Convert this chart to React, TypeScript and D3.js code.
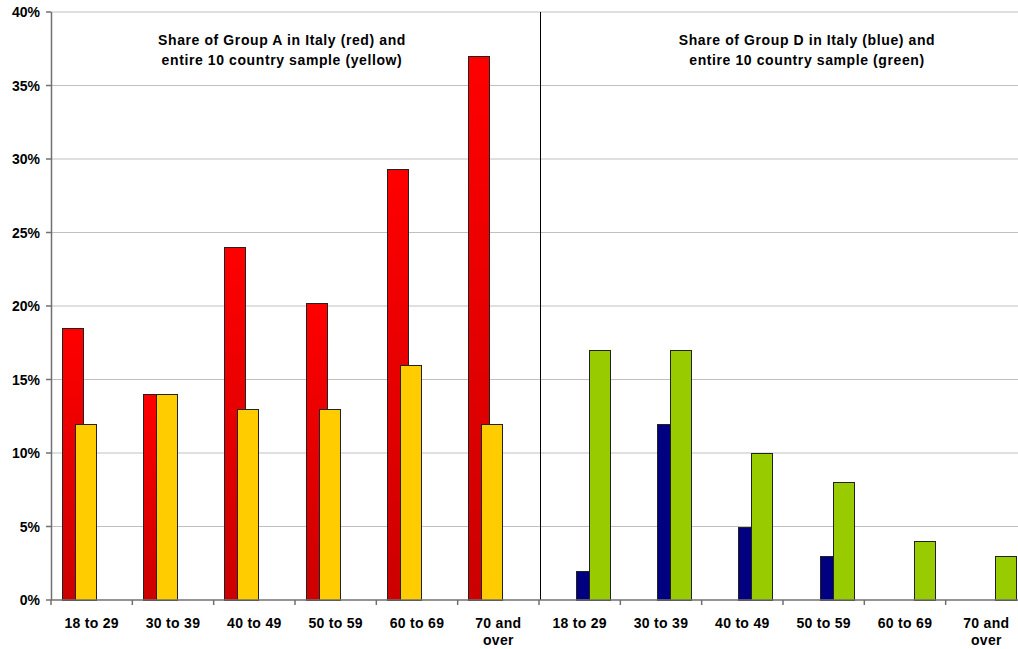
import * as d3 from 'd3'
import React from 'react'

// age bands, repeated for the two halves of the chart
const ageGroups = ['18 to 29', '30 to 39', '40 to 49', '50 to 59', '60 to 69', '70 and over']
// Group A: Italy (red) and whole 10 country sample (yellow)
const italyGroupA = [18.5, 14, 24, 20.2, 29.3, 37]
const sampleGroupA = [12, 14, 13, 13, 16, 12]
// Group D: Italy (blue) and whole 10 country sample (green)
const italyGroupD = [2, 12, 5, 3, 0, 0]
const sampleGroupD = [17, 17, 10, 8, 4, 3]
const yTicks = [0, 5, 10, 15, 20, 25, 30, 35, 40]
const titleA = ['Share of Group A in Italy (red) and', 'entire 10 country sample (yellow)']
const titleD = ['Share of Group D in Italy (blue) and', 'entire 10 country sample (green)']

const width = 1018
const height = 649
const margin = { top: 12, right: -9, bottom: 49, left: 51 }
const font = '"Liberation Sans", Arial, sans-serif'

const App = (): JSX.Element => {
    const slots = [...ageGroups.map((a) => `A|${a}`), ...ageGroups.map((a) => `D|${a}`)]

    const x = d3
        .scaleBand()
        .domain(slots)
        .range([margin.left, width - margin.right])
        .paddingInner(0)
        .paddingOuter(0)

    const y = d3
        .scaleLinear()
        .domain([0, 40])
        .range([height - margin.bottom, margin.top])

    const bw = x.bandwidth()
    const barW = bw * 0.258
    const step = barW * 0.62
    const gap = (bw - (3 * step + barW)) / 2
    // position of the 4 series inside one slot (Excel style overlap)
    const sub = d3.scaleLinear().domain([0, 3]).range([gap, gap + 3 * step])

    const series = [
        { key: 'itA', values: italyGroupA, half: 'A', idx: 0, fill: 'url(#redGrad)' },
        { key: 'smA', values: sampleGroupA, half: 'A', idx: 1, fill: '#FFCC00' },
        { key: 'itD', values: italyGroupD, half: 'D', idx: 2, fill: '#000080' },
        { key: 'smD', values: sampleGroupD, half: 'D', idx: 3, fill: '#99CC00' },
    ]

    const y0 = y(0)
    const x0 = margin.left
    const xEnd = width
    const dividerX = (x(`D|${ageGroups[0]}`) as number) + 1.5
    const leftCenter = 282
    const rightCenter = 807

    return (
        <svg
            width={width}
            height={height}
            style={{ position: 'absolute', left: 0, top: 0, background: '#fff' }}
            fontFamily={font}
        >
            <defs>
                <linearGradient id="redGrad" x1="0" y1="0" x2="0" y2="1">
                    <stop offset="0%" stopColor="#FF0000" />
                    <stop offset="100%" stopColor="#CC0000" />
                </linearGradient>
            </defs>

            {/* gridlines */}
            {yTicks
                .filter((t) => t > 0)
                .map((t) => (
                    <line
                        key={`g${t}`}
                        x1={x0}
                        x2={xEnd}
                        y1={y(t)}
                        y2={y(t)}
                        stroke="#c0c0c0"
                        strokeWidth={1}
                    />
                ))}

            {/* bars */}
            {series.map((s) => (
                <g key={s.key}>
                    {s.values.map((v, i) => {
                        if (!v) return null
                        const bx = (x(`${s.half}|${ageGroups[i]}`) as number) + sub(s.idx)
                        return (
                            <rect
                                key={i}
                                x={Math.round(bx) + 0.5}
                                y={Math.round(y(v)) + 0.5}
                                width={Math.round(barW)}
                                height={Math.round(y0) - Math.round(y(v))}
                                fill={s.fill}
                                stroke="#222"
                                strokeWidth={1}
                            />
                        )
                    })}
                </g>
            ))}

            {/* divider between the two panels */}
            <line x1={dividerX} x2={dividerX} y1={y(40)} y2={y0} stroke="#000" strokeWidth={1} />

            {/* y axis */}
            <line x1={x0 + 0.5} x2={x0 + 0.5} y1={y(40)} y2={y0} stroke="#707070" strokeWidth={1.5} />
            {yTicks.map((t) => (
                <g key={`y${t}`}>
                    <line x1={x0 - 5} x2={x0} y1={y(t)} y2={y(t)} stroke="#707070" strokeWidth={1.5} />
                    <text
                        x={x0 - 11}
                        y={y(t)}
                        dy="0.36em"
                        textAnchor="end"
                        fontSize={14}
                        fontWeight="bold"
                        fill="#000"
                    >
                        {`${t}%`}
                    </text>
                </g>
            ))}

            {/* x axis */}
            <line x1={x0} x2={xEnd} y1={y0} y2={y0} stroke="#707070" strokeWidth={1.5} />
            {slots.map((s) => {
                const sx = x(s) as number
                const label = s.split('|')[1]
                const lines = label === '70 and over' ? ['70 and', 'over'] : [label]
                return (
                    <g key={s}>
                        <line x1={sx} x2={sx} y1={y0} y2={y0 + 5} stroke="#707070" strokeWidth={1.5} />
                        {lines.map((l, li) => (
                            <text
                                key={li}
                                x={sx + bw / 2}
                                y={y0 + 28 + li * 17}
                                textAnchor="middle"
                                fontSize={14}
                                fontWeight="bold"
                                letterSpacing={0.3}
                                fill="#000"
                            >
                                {l}
                            </text>
                        ))}
                    </g>
                )
            })}

            {/* panel titles */}
            {[
                { c: leftCenter, t: titleA },
                { c: rightCenter, t: titleD },
            ].map((p) =>
                p.t.map((l, li) => (
                    <text
                        key={`${p.c}-${li}`}
                        x={p.c}
                        y={45 + li * 20}
                        textAnchor="middle"
                        fontSize={14}
                        fontWeight="bold"
                        letterSpacing={0.6}
                        fill="#000"
                    >
                        {l}
                    </text>
                ))
            )}
        </svg>
    )
}

export default App
